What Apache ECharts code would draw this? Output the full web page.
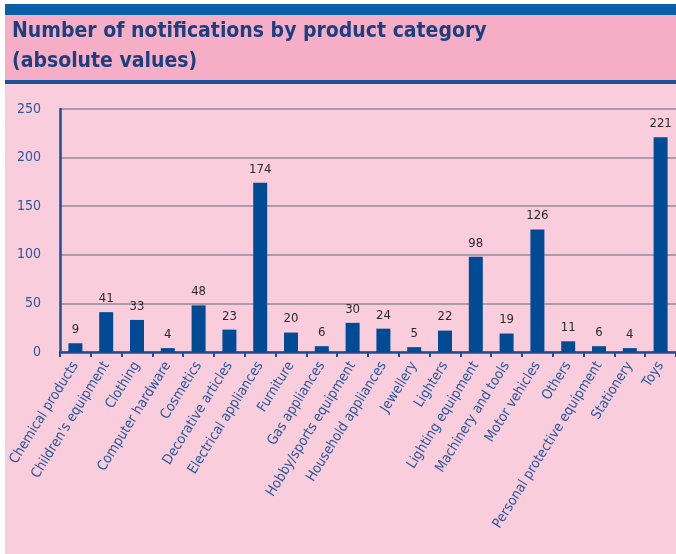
<!DOCTYPE html>
<html>
<head>
<meta charset="utf-8">
<script src="https://cdn.jsdelivr.net/npm/echarts@6/dist/echarts.min.js"></script>
<style>
html, body { margin: 0; padding: 0; background: #ffffff; }
#chart { width: 676px; height: 554px; }
</style>
</head>
<body>
<div id="chart"></div>
<script>
// 产品类别和通知数量
var categories = ['Chemical products', "Children's equipment", 'Clothing', 'Computer hardware',
	'Cosmetics', 'Decorative articles', 'Electrical appliances', 'Furniture', 'Gas appliances',
	'Hobby/sports equipment', 'Household appliances', 'Jewellery', 'Lighters', 'Lighting equipment',
	'Machinery and tools', 'Motor vehicles', 'Others', 'Personal protective equipment',
	'Stationery', 'Toys'];
var notifications = [9, 41, 33, 4, 48, 23, 174, 20, 6, 30, 24, 5, 22, 98, 19, 126, 11, 6, 4, 221];
var yTicks = [0, 50, 100, 150, 200, 250];

var myChart = echarts.init(document.getElementById('chart'));

var option = {
	animation: false,
	backgroundColor: '#ffffff',
	graphic: [
		// 背景色块
		{ type: 'rect', left: 5, top: 84, shape: { width: 671, height: 470 }, style: { fill: '#f9cddc' }, z: -10 },
		{ type: 'rect', left: 5, top: 4, shape: { width: 671, height: 11 }, style: { fill: '#0a5fa8' }, z: -10 },
		{ type: 'rect', left: 5, top: 15, shape: { width: 671, height: 65 }, style: { fill: '#f5aec6' }, z: -10 },
		{ type: 'rect', left: 5, top: 80, shape: { width: 671, height: 4 }, style: { fill: '#1b5296' }, z: -10 },
		{
			type: 'text', left: 12, top: 17,
			style: {
				text: 'Number of notifications by product category\n(absolute values)',
				fill: '#1d3f7e',
				font: 'bold 21px "DejaVu Sans Condensed"',
				lineHeight: 30
			}
		}
	],
	grid: {
		left: 60,
		right: -4,
		top: 109,
		bottom: 202
	},
	xAxis: [{
		type: 'category',
		data: categories,
		axisLine: {
			lineStyle: { color: '#1c4f91', width: 2.5 }
		},
		axisTick: {
			show: true,
			length: 5,
			lineStyle: { color: '#1c4f91', width: 2 }
		},
		axisLabel: {
			rotate: 58,
			margin: 11,
			color: '#2b5a9c',
			fontSize: 14,
			fontFamily: 'DejaVu Sans Condensed',
			interval: 0
		}
	}],
	yAxis: [{
		type: 'value',
		min: yTicks[0],
		max: yTicks[yTicks.length - 1],
		interval: 50,
		axisLine: {
			show: true,
			lineStyle: { color: '#1c4f91', width: 2.5 }
		},
		axisTick: { show: false },
		axisLabel: {
			margin: 19,
			color: '#2b5a9c',
			fontSize: 14,
			fontFamily: 'DejaVu Sans Condensed'
		},
		splitLine: {
			lineStyle: { color: '#8e8a9c', width: 1.5 }
		}
	}],
	series: [{
		type: 'bar',
		data: notifications,
		barWidth: 14,
		itemStyle: { color: '#004b93' },
		label: {
			show: true,
			position: 'top',
			distance: 7,
			color: '#2a2a2a',
			fontSize: 13,
			fontFamily: 'DejaVu Sans Condensed'
		}
	}]
};

myChart.setOption(option);
</script>
</body>
</html>
